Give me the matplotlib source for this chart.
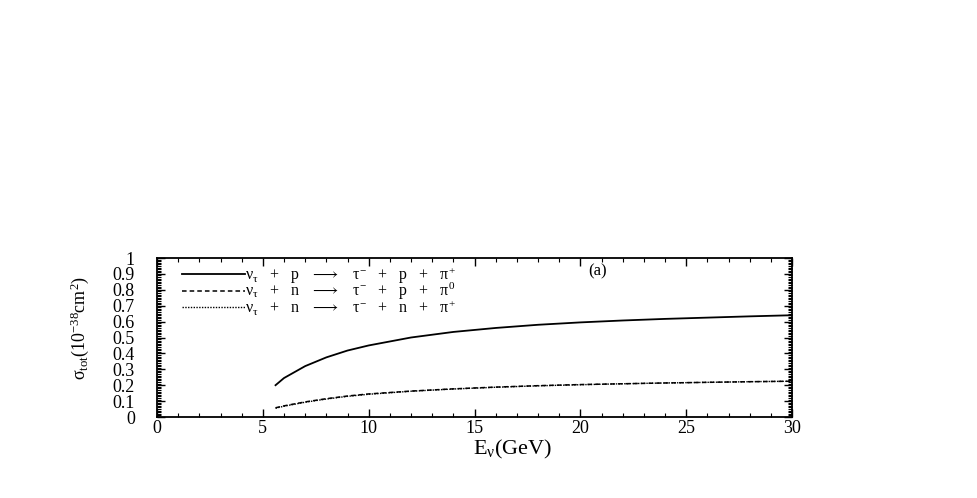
import matplotlib
matplotlib.use("Agg")
import matplotlib.pyplot as plt
from matplotlib.ticker import MultipleLocator

plt.rcParams['font.family'] = ['Liberation Serif', 'DejaVu Serif']
plt.rcParams['mathtext.fontset'] = 'custom'
plt.rcParams['mathtext.rm'] = 'Liberation Serif'
plt.rcParams['mathtext.it'] = 'Liberation Serif'
plt.rcParams['mathtext.bf'] = 'Liberation Serif:bold'
plt.rcParams['mathtext.default'] = 'rm'
plt.rcParams['mathtext.fallback'] = 'stix'

E = [5.6, 6, 7, 8, 9, 10, 12, 14, 16, 18, 20, 22, 24, 26, 28, 30]
sig_p_pip = [0.20, 0.245, 0.32, 0.375, 0.418, 0.45, 0.50, 0.535, 0.560, 0.580, 0.595, 0.607, 0.617, 0.625, 0.633, 0.640]
sig_n_pi0 = [0.058, 0.07, 0.095, 0.115, 0.132, 0.145, 0.163, 0.177, 0.188, 0.197, 0.204, 0.209, 0.214, 0.218, 0.222, 0.225]
sig_n_pip = [0.055, 0.068, 0.093, 0.113, 0.130, 0.143, 0.162, 0.176, 0.187, 0.196, 0.203, 0.209, 0.214, 0.218, 0.222, 0.225]

labels = [r'$ν_{τ}$   +   p   $\longrightarrow$   $τ^{-}$   +   p   +   $π^{+}$',
          r'$ν_{τ}$   +   n   $\longrightarrow$   $τ^{-}$   +   p   +   $π^{0}$',
          r'$ν_{τ}$   +   n   $\longrightarrow$   $τ^{-}$   +   n   +   $π^{+}$']

fig = plt.figure(figsize=(9.77, 4.98), dpi=100)
ax = fig.add_axes([157/977, 1-417/498, (792-157)/977, (417-258)/498])

ax.plot(E, sig_p_pip, color='black', lw=1.3, ls='-', label=labels[0])
ax.plot(E, sig_n_pi0, color='black', lw=1.1, ls=(0, (3, 2)), label=labels[1])
ax.plot(E, sig_n_pip, color='black', lw=1.0, ls=(0, (1, 1)), label=labels[2])

ax.set_xlim(0, 30)
ax.set_ylim(0, 1)
ax.xaxis.set_major_locator(MultipleLocator(5))
ax.xaxis.set_minor_locator(MultipleLocator(1))
ax.yaxis.set_minor_locator(MultipleLocator(0.01))
ax.set_yticks([0, 0.1, 0.2, 0.3, 0.4, 0.5, 0.6, 0.7, 0.8, 0.9, 1.0])
ax.set_yticklabels(['0', '0.1', '0.2', '0.3', '0.4', '0.5', '0.6', '0.7', '0.8', '0.9', '1'])
ax.tick_params(which='both', direction='in', top=True, right=True, labelsize=13)
ax.tick_params(which='major', length=6, width=1)
ax.tick_params(which='minor', length=3, width=0.8)
ax.tick_params(axis='x', pad=2)
ax.tick_params(axis='y', pad=16)
for s in ax.spines.values():
    s.set_linewidth(1.3)

ax.set_xlabel(r'E$_{ν}$(GeV)', fontsize=16)
ax.xaxis.set_label_coords((513-157)/635, -(449-417)/159, transform=ax.transAxes)
ax.xaxis.label.set_va('center')
ax.set_ylabel(r'$σ_{tot}$(10$^{-38}$cm$^{2}$)', fontsize=13)
ax.yaxis.set_label_coords(-(157-80)/635, (417-328)/159, transform=ax.transAxes)
ax.yaxis.label.set_va('center')

ax.legend(loc='upper left', frameon=False, fontsize=11.5, handlelength=3.9,
          handletextpad=0.0, labelspacing=-0.3, borderaxespad=0.0,
          bbox_to_anchor=(0.03, 0.995))
ax.text((598-157)/635, (417-271)/159, '(a)', transform=ax.transAxes, fontsize=12,
        ha='center', va='center')

fig.savefig('out.png', dpi=100)
